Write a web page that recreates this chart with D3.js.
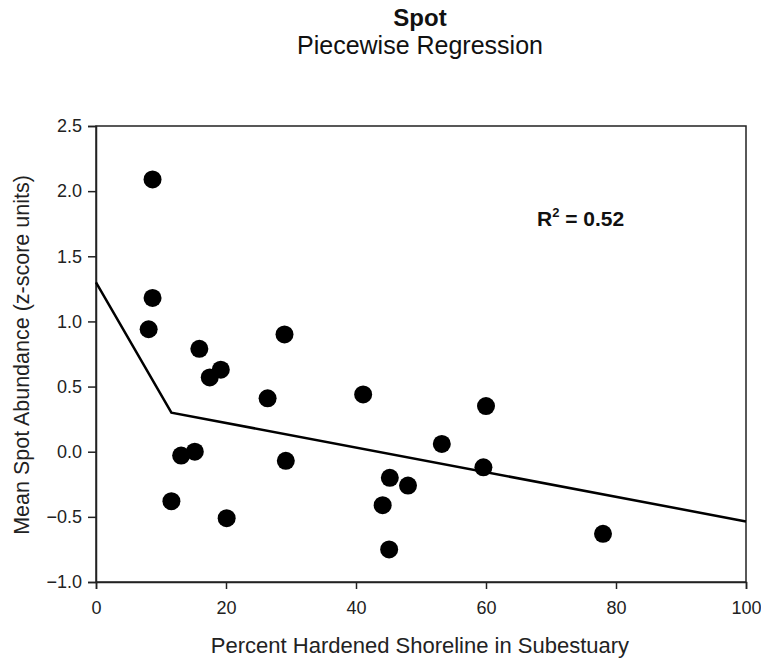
<!DOCTYPE html>
<html><head><meta charset="utf-8">
<script src="https://cdn.jsdelivr.net/npm/d3@7"></script>
<style>body{margin:0;background:#fff}svg{display:block}text{font-family:"Liberation Sans",Arial,sans-serif}</style>
</head><body><svg id="c" width="761" height="661"></svg>
<script>
const xVals = [8.7, 8.7, 8.1, 15.9, 17.5, 19.2, 29.0, 26.4, 41.1, 60.0, 53.2, 13.1, 15.2, 29.2, 11.6, 20.1, 45.2, 48.0, 44.1, 45.1, 59.6, 78.0];
const yVals = [2.09, 1.18, 0.94, 0.79, 0.57, 0.63, 0.90, 0.41, 0.44, 0.35, 0.06, -0.03, 0.00, -0.07, -0.38, -0.51, -0.20, -0.26, -0.41, -0.75, -0.12, -0.63];
const fitX = [0, 11.6, 100];
const fitY = [1.30, 0.30, -0.535];
const xTicks = [0, 20, 40, 60, 80, 100];
const yTicks = [-1.0, -0.5, 0.0, 0.5, 1.0, 1.5, 2.0, 2.5];

const svg = d3.select("#c");
const x = d3.scaleLinear().domain([0, 100]).range([96, 746]);
const y = d3.scaleLinear().domain([-1, 2.5]).range([582, 126]);

// frame
svg.append("rect").attr("x", 96).attr("y", 126).attr("width", 650).attr("height", 456)
  .attr("fill", "none").attr("stroke", "#222").attr("stroke-width", 1.5);

const xa = svg.append("g").attr("transform", "translate(0,582)")
  .call(d3.axisBottom(x).tickValues(xTicks).tickFormat(d3.format("d")).tickSize(7).tickPadding(12));
const ya = svg.append("g").attr("transform", "translate(96,0)")
  .call(d3.axisLeft(y).tickValues(yTicks).tickFormat(d3.format(".1f")).tickSize(8).tickPadding(6));
[xa, ya].forEach(a => {
  a.select(".domain").attr("stroke", "#222").attr("stroke-width", 1.5);
  a.selectAll(".tick line").attr("stroke", "#222").attr("stroke-width", 1.5);
  a.selectAll("text").attr("font-size", 18).attr("fill", "#222").style("font-family", '"Liberation Sans",Arial,sans-serif');
});

// fit line
const fit = fitX.map((v, i) => [v, fitY[i]]);
svg.append("path").datum(fit)
  .attr("d", d3.line().x(d => x(d[0])).y(d => y(d[1])))
  .attr("fill", "none").attr("stroke", "#000").attr("stroke-width", 2.5);

// points
svg.append("g").selectAll("circle").data(xVals.map((v, i) => [v, yVals[i]])).join("circle")
  .attr("cx", d => x(d[0])).attr("cy", d => y(d[1])).attr("r", 9).attr("fill", "#000");

// titles
svg.append("text").attr("x", 420).attr("y", 26).attr("text-anchor", "middle")
  .attr("font-size", 24).attr("font-weight", "bold").attr("fill", "#111").text("Spot");
svg.append("text").attr("x", 420).attr("y", 54).attr("text-anchor", "middle")
  .attr("font-size", 25).attr("fill", "#111").text("Piecewise Regression");

// axis titles
svg.append("text").attr("x", 420).attr("y", 653).attr("text-anchor", "middle")
  .attr("font-size", 22).attr("fill", "#222").text("Percent Hardened Shoreline in Subestuary");
svg.append("text").attr("transform", "translate(29,355) rotate(-90)").attr("text-anchor", "middle")
  .attr("font-size", 21.5).attr("fill", "#222").text("Mean Spot Abundance (z-score units)");

// R^2
const r = svg.append("text").attr("x", 537).attr("y", 226).attr("font-size", 21)
  .attr("font-weight", "bold").attr("fill", "#111");
r.append("tspan").text("R");
r.append("tspan").attr("dy", -9).attr("font-size", 13).text("2");
r.append("tspan").attr("dy", 9).text(" = 0.52");
</script></body></html>
